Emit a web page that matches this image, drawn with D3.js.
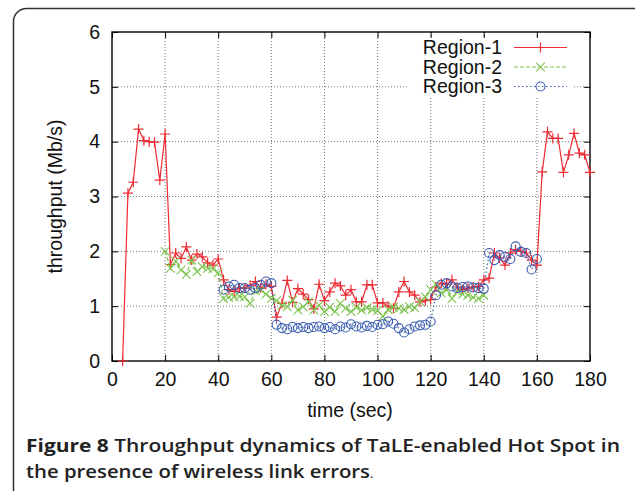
<!DOCTYPE html>
<html>
<head>
<meta charset="utf-8">
<script src="https://cdn.jsdelivr.net/npm/d3@7"></script>
<style>
  body { margin: 0; background: #fff; }
  svg { display: block; }
</style>
</head>
<body>
<script>
var xTicks = [0, 20, 40, 60, 80, 100, 120, 140, 160, 180]
var yTicks = [0, 1, 2, 3, 4, 5, 6]
var seriesNames = ['Region-1', 'Region-2', 'Region-3']

var region1Start = 4
var region1 = [0, 3.06, 3.26, 4.23, 4.02, 4.0, 3.99, 3.30, 4.14,
  1.76, 1.97, 1.87, 2.08, 1.84, 1.95, 1.90, 1.79, 1.75, 1.86,
  1.48, 1.30, 1.27, 1.33, 1.33, 1.38, 1.45, 1.33, 1.40, 1.36,
  0.80, 1.05, 1.47, 1.07, 1.32, 1.22, 1.12, 0.95, 1.40, 1.10,
  1.26, 1.42, 1.37, 1.20, 1.30, 1.08, 1.08, 1.39, 1.39, 1.06,
  1.06, 1.00, 0.96, 1.26, 1.45, 1.26, 1.20, 1.08, 1.10, 1.12,
  1.35, 1.42, 1.40, 1.48, 1.35, 1.30, 1.33, 1.35, 1.36, 1.48,
  1.51, 1.97, 1.88, 1.75, 1.97, 2.03, 2.00, 1.97, 1.84, 1.75,
  3.45, 4.18, 4.06, 4.06, 3.44, 3.76, 4.15, 3.79, 3.76, 3.44]

var region2Start = 20
var region2 = [2.00, 1.69, 1.82, 1.66, 1.58, 1.84, 1.63, 1.72, 1.69, 1.68,
  1.61, 1.14, 1.16, 1.17, 1.18, 1.17, 1.05, 1.28, 1.30, 1.22,
  1.14, 1.10, 1.02, 0.99, 1.11, 0.93, 0.99, 1.08, 0.93, 1.02,
  0.90, 0.98, 0.90, 1.05, 0.96, 0.90, 0.98, 0.93, 0.97, 0.94,
  0.92, 0.81, 0.94, 0.98, 0.96, 0.94, 0.99, 0.97, 1.08, 1.17,
  1.30, 1.40, 1.24, 1.30, 1.14, 1.26, 1.22, 1.20, 1.16, 1.14, 1.20]

var region3Start = 42
var region3 = [1.30, 1.36, 1.39, 1.33, 1.33, 1.30, 1.33, 1.39, 1.45, 1.42,
  0.66, 0.60, 0.58, 0.62, 0.60, 0.62, 0.60, 0.62, 0.63, 0.60,
  0.62, 0.58, 0.63, 0.61, 0.67, 0.63, 0.61, 0.64, 0.62, 0.66,
  0.67, 0.72, 0.68, 0.60, 0.52, 0.58, 0.63, 0.65, 0.66, 0.72,
  1.20, 1.39, 1.42, 1.36, 1.33, 1.35, 1.36, 1.34, 1.33, 1.32,
  1.97, 1.84, 1.93, 1.90, 1.86, 2.09, 1.99, 1.97, 1.67, 1.86]

var red = '#ee2a33'
var green = '#7cc44e'
var blue = '#3a5cb0'
var textColor = '#111'
var chartFont = '"Liberation Sans", Arial, sans-serif'
var chartFontSize = '19.5px'
var captionFont = '"Open Sans", "Noto Sans", sans-serif'

function toPoints(start, values) {
  return values.map(function (v, i) { return { t: start + i * 2, v: v } })
}

var series = [
  { name: seriesNames[0], color: red, dash: null, marker: 'plus', data: toPoints(region1Start, region1) },
  { name: seriesNames[1], color: green, dash: '4,2', marker: 'cross', data: toPoints(region2Start, region2) },
  { name: seriesNames[2], color: blue, dash: '1.5,2.5', marker: 'circle', data: toPoints(region3Start, region3) }
]

var width = 635, height = 491
var svg = d3.select('body').append('svg')
    .attr('width', width)
    .attr('height', height)

// outer caption panel
svg.append('rect')
    .attr('x', 13.5)
    .attr('y', 8.5)
    .attr('width', 640)
    .attr('height', 520)
    .attr('rx', 13)
    .attr('fill', 'none')
    .attr('stroke', '#333')
    .attr('stroke-width', 1.5)

var plotLeft = 112, plotRight = 590, plotTop = 32, plotBottom = 361

var x = d3.scaleLinear().domain([0, 180]).range([plotLeft, plotRight])
var y = d3.scaleLinear().domain([0, 6]).range([plotBottom, plotTop])

var canvas = svg.append('g')

// grid
canvas.append('g').selectAll('line')
    .data(xTicks.slice(1, -1))
    .enter().append('line')
    .attr('x1', d => x(d)).attr('x2', d => x(d))
    .attr('y1', plotTop).attr('y2', plotBottom)
    .attr('stroke', '#777')
    .attr('stroke-width', 1)
    .attr('stroke-dasharray', '1,2')

canvas.append('g').selectAll('line')
    .data(yTicks.slice(1, -1))
    .enter().append('line')
    .attr('x1', plotLeft).attr('x2', plotRight)
    .attr('y1', d => y(d)).attr('y2', d => y(d))
    .attr('stroke', '#777')
    .attr('stroke-width', 1)
    .attr('stroke-dasharray', '1,2')

// key background hides the grid behind it
canvas.append('rect')
    .attr('x', 408).attr('y', 38)
    .attr('width', 164).attr('height', 58)
    .attr('fill', '#fff')

// axes with inward ticks on all four sides
var fmt = d3.format('d')
canvas.append('g')
    .attr('transform', 'translate(0,' + plotBottom + ')')
    .call(d3.axisBottom(x).tickValues(xTicks).tickFormat(fmt).tickSizeInner(-6).tickSizeOuter(0).tickPadding(11))
canvas.append('g')
    .attr('transform', 'translate(0,' + plotTop + ')')
    .call(d3.axisTop(x).tickValues(xTicks).tickSizeInner(-6).tickSizeOuter(0).tickFormat(''))
canvas.append('g')
    .attr('transform', 'translate(' + plotLeft + ',0)')
    .call(d3.axisLeft(y).tickValues(yTicks).tickFormat(fmt).tickSizeInner(-6).tickSizeOuter(0).tickPadding(12))
canvas.append('g')
    .attr('transform', 'translate(' + plotRight + ',0)')
    .call(d3.axisRight(y).tickValues(yTicks).tickSizeInner(-6).tickSizeOuter(0).tickFormat(''))

canvas.selectAll('.domain').remove()
canvas.selectAll('.tick line').attr('stroke', '#000').attr('stroke-width', 1)
canvas.selectAll('.tick text')
    .attr('fill', textColor)
    .style('font-family', chartFont)
    .style('font-size', chartFontSize)

canvas.append('rect')
    .attr('x', plotLeft).attr('y', plotTop)
    .attr('width', plotRight - plotLeft).attr('height', plotBottom - plotTop)
    .attr('fill', 'none')
    .attr('stroke', '#000')
    .attr('stroke-width', 1.4)

// axis titles
canvas.append('text')
    .attr('x', 350)
    .attr('y', 417)
    .attr('text-anchor', 'middle')
    .attr('fill', textColor)
    .style('font-family', chartFont)
    .style('font-size', chartFontSize)
    .text('time (sec)')

canvas.append('text')
    .attr('transform', 'translate(55,' + ((plotTop + plotBottom) / 2) + ') rotate(-90)')
    .attr('text-anchor', 'middle')
    .attr('dy', '0.35em')
    .attr('fill', textColor)
    .style('font-family', chartFont)
    .style('font-size', chartFontSize)
    .text('throughput (Mb/s)')

// markers
function drawMarker(g, type, cx, cy, color) {
  if (type === 'plus') {
    g.append('path')
        .attr('d', 'M' + (cx - 5) + ',' + cy + 'h10M' + cx + ',' + (cy - 5) + 'v10')
        .attr('stroke', color).attr('stroke-width', 1.2).attr('fill', 'none')
  } else if (type === 'cross') {
    g.append('path')
        .attr('d', 'M' + (cx - 4.3) + ',' + (cy - 4.3) + 'l8.6,8.6M' + (cx - 4.3) + ',' + (cy + 4.3) + 'l8.6,-8.6')
        .attr('stroke', color).attr('stroke-width', 1.1).attr('fill', 'none')
  } else {
    g.append('circle')
        .attr('cx', cx).attr('cy', cy).attr('r', 4.5)
        .attr('stroke', color).attr('stroke-width', 1.1).attr('fill', 'none')
  }
}

var line = d3.line().x(d => x(d.t)).y(d => y(d.v))

var plot = canvas.append('g')
series.forEach(function (s) {
  var g = plot.append('g')
  g.append('path')
      .datum(s.data)
      .attr('d', line)
      .attr('fill', 'none')
      .attr('stroke', s.color)
      .attr('stroke-width', 1.2)
      .attr('stroke-dasharray', s.dash)
  s.data.forEach(function (d) { drawMarker(g, s.marker, x(d.t), y(d.v), s.color) })
})

// key
series.forEach(function (s, i) {
  var ky = 47.5 + i * 19.5
  var g = canvas.append('g')
  g.append('text')
      .attr('x', 502)
      .attr('y', ky)
      .attr('dy', '0.35em')
      .attr('text-anchor', 'end')
      .attr('fill', textColor)
      .style('font-family', chartFont)
      .style('font-size', chartFontSize)
      .text(s.name)
  g.append('line')
      .attr('x1', 514).attr('x2', 567)
      .attr('y1', ky).attr('y2', ky)
      .attr('stroke', s.color)
      .attr('stroke-width', 1.2)
      .attr('stroke-dasharray', s.dash)
  drawMarker(g, s.marker, 540.5, ky, s.color)
})

// caption
var cap1 = svg.append('text')
    .attr('x', 26)
    .attr('y', 452)
    .attr('fill', '#222')
    .style('font-family', captionFont)
    .style('font-size', '18.5px')
    .attr('textLength', 594)
    .attr('lengthAdjust', 'spacingAndGlyphs')
cap1.append('tspan').style('font-weight', 700).text('Figure 8 ')
cap1.append('tspan').style('font-weight', 600).text('Throughput dynamics of TaLE-enabled Hot Spot in')

var cap2 = svg.append('text')
    .attr('x', 26)
    .attr('y', 478)
    .attr('fill', '#222')
    .style('font-family', captionFont)
    .style('font-size', '18.5px')
cap2.append('tspan').style('font-weight', 600)
    .attr('textLength', 344)
    .attr('lengthAdjust', 'spacingAndGlyphs')
    .text('the presence of wireless link errors')
cap2.append('tspan').style('font-weight', 400).style('font-size', '13px').text('.')
</script>
</body>
</html>
